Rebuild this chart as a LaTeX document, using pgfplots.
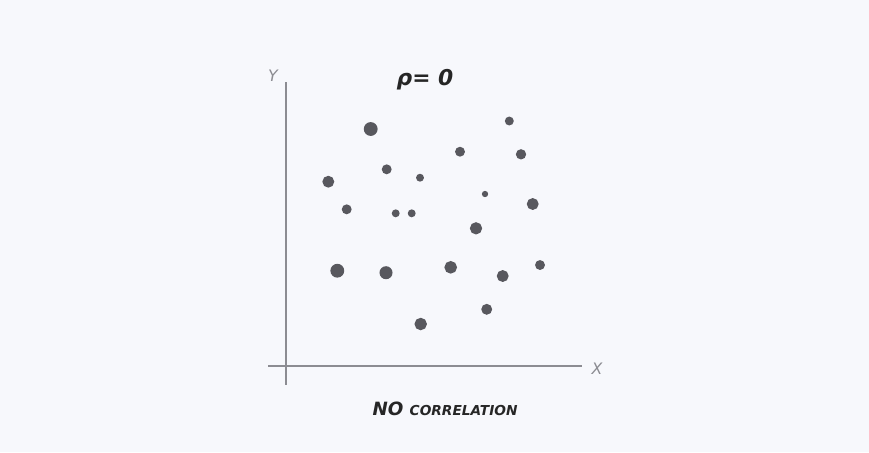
\documentclass[border=0pt]{standalone}
\usepackage{fontspec}
\setmainfont{DejaVu Sans}
\usepackage{pgfplots}
\pgfplotsset{compat=1.18}
\definecolor{bgc}{RGB}{247,248,252}
\definecolor{dotc}{RGB}{88,88,94}
\definecolor{axc}{RGB}{140,140,146}
\begin{document}
\begin{tikzpicture}
\begin{axis}[
  width=8.69cm, height=4.52cm, scale only axis,
  xmin=0, xmax=869, ymin=0, ymax=452, y dir=reverse,
  axis lines=none, ticks=none,
  axis background/.style={fill=bgc},
  clip=false,
]
% axis lines
\addplot[axc, line width=0.65pt] coordinates {(286,82) (286,385)};
\addplot[axc, line width=0.65pt] coordinates {(268,366) (582,366)};
% points (pixel coords, radius in px)
\addplot[only marks, mark=*, scatter,
  scatter/use mapped color={draw=dotc, fill=dotc},
  visualization depends on={\thisrow{r}\as\rr},
  scatter/@pre marker code/.append style={/tikz/mark size=0.2845*\rr pt}]
table {
x y r
370.7 129.0 6.2
328.3 181.7 5.2
386.7 169.3 4.2
420.0 177.7 3.2
346.7 209.3 4.2
395.7 213.3 3.2
411.7 213.3 3.2
460.0 151.7 4.2
509.3 121.0 3.7
521.0 154.3 4.4
485.0 194.0 2.4
532.7 204.0 5.2
476.0 228.3 5.4
337.3 270.7 6.2
386.0 272.7 5.8
450.7 267.3 5.6
502.7 276.0 5.2
540.0 265.0 4.2
486.7 309.3 4.7
420.7 324.0 5.5
};
\node[font=\bfseries\itshape\fontsize{6.2}{7}\selectfont, text=black!85] at (axis cs:425,80) {ρ= 0};
\node[font=\itshape\fontsize{4.5}{5}\selectfont, text=axc] at (axis cs:273,76) {Y};
\node[font=\itshape\fontsize{4.5}{5}\selectfont, text=axc] at (axis cs:597,369) {X};
\node[font=\bfseries\itshape\fontsize{5.2}{6}\selectfont, text=black!85] at (axis cs:445,409) {NO {\fontsize{3.9}{4}\selectfont CORRELATION}};
\end{axis}
\end{tikzpicture}
\end{document}
